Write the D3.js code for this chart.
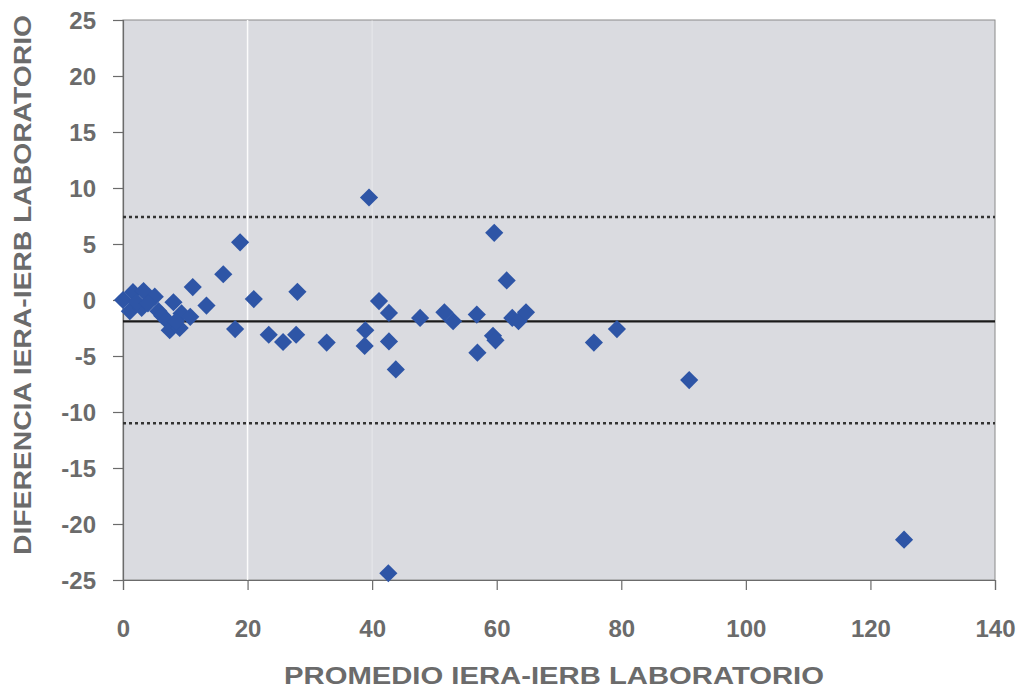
<!DOCTYPE html>
<html>
<head>
<meta charset="utf-8">
<script src="https://cdn.jsdelivr.net/npm/d3@7"></script>
<style>
  body { margin: 0; background: #ffffff; }
  text { font-family: "Liberation Sans", Arial, sans-serif; font-weight: bold; fill: #6b6b6b; }
</style>
</head>
<body>
<div id="chart"></div>
<script>
// Bland-Altman data
var promedio = [0, 1.6, 3.3, 5.1, 1.1, 3.0, 5.7, 2.2, 4.0, 6.3, 8.1, 7.0, 7.5, 9.1, 9.4, 8.5, 10.8, 11.2, 13.4, 16.1,
                18.0, 18.8, 21.0, 23.4, 25.7, 27.8, 28.0, 32.7, 38.8, 38.9, 39.5, 41.1, 42.7, 42.7, 42.6, 43.8,
                47.7, 51.6, 53.0, 56.8, 56.9, 59.4, 59.8, 59.6, 61.6, 62.5, 63.5, 64.7, 75.6, 79.3, 90.9, 125.4];
var diferencia = [0, 0.7, 0.8, 0.3, -1.0, -0.7, -1.0, -0.2, -0.3, -1.4, -0.2, -1.8, -2.7, -2.5, -1.2, -1.9, -1.5, 1.15, -0.5, 2.3,
                  -2.6, 5.15, 0.08, -3.1, -3.75, -3.1, 0.73, -3.8, -4.1, -2.7, 9.15, -0.1, -1.15, -3.7, -24.4, -6.2,
                  -1.6, -1.1, -1.9, -1.3, -4.7, -3.2, -3.6, 6.0, 1.75, -1.6, -1.9, -1.1, -3.8, -2.6, -7.15, -21.4];
var media = -1.9;
var limites = [7.4, -11.0];
var xTicks = [0, 20, 40, 60, 80, 100, 120, 140];
var yTicks = [25, 20, 15, 10, 5, 0, -5, -10, -15, -20, -25];

var margin = {top: 20, right: 30, bottom: 112, left: 123},
    width = 995 - margin.left,
    height = 580 - margin.top;

var svg = d3.select("#chart").append("svg")
    .attr("width", 1025).attr("height", 692)
  .append("g")
    .attr("transform", "translate(" + margin.left + "," + margin.top + ")");

var x = d3.scaleLinear().domain([0, 140]).range([0, width]);
var y = d3.scaleLinear().domain([-25, 25]).range([height, 0]);

// plot background
svg.append("rect")
    .attr("width", width).attr("height", height)
    .attr("fill", "#dadbe0")
    .attr("stroke", "#8a8a8a").attr("stroke-width", 1);

// faint white streaks seen in the scan
svg.selectAll(".streak").data([20, 40]).enter().append("line")
    .attr("x1", d => x(d)).attr("x2", d => x(d))
    .attr("y1", 0).attr("y2", height)
    .attr("stroke", "#ffffff")
    .attr("stroke-opacity", (d, i) => i == 0 ? 0.9 : 0.25)
    .attr("stroke-width", 1.5);

// axes (plain hyphen for negatives, as in the original)
var fmt = d => String(d);
var xAxis = svg.append("g").attr("transform", "translate(0," + height + ")")
    .call(d3.axisBottom(x).tickValues(xTicks).tickFormat(fmt).tickSize(10).tickPadding(30));
var yAxis = svg.append("g")
    .call(d3.axisLeft(y).tickValues(yTicks).tickFormat(fmt).tickSize(10).tickPadding(17));

[xAxis, yAxis].forEach(function(a) {
    a.selectAll("path, line").attr("stroke", "#6b6b6b").attr("stroke-width", 1.2);
    a.selectAll("text").attr("font-size", "24px").attr("fill", "#6b6b6b")
      .attr("font-family", "Liberation Sans, Arial, sans-serif").attr("font-weight", "bold");
});
yAxis.selectAll("text").attr("dy", "0.35em");

// mean and limits of agreement
svg.append("line")
    .attr("x1", 0).attr("x2", width)
    .attr("y1", y(media)).attr("y2", y(media))
    .attr("stroke", "#1a1a1a").attr("stroke-width", 2.2);

svg.selectAll(".limite").data(limites).enter().append("line")
    .attr("x1", 0).attr("x2", width)
    .attr("y1", d => y(d)).attr("y2", d => y(d))
    .attr("stroke", "#333333").attr("stroke-width", 2.5)
    .attr("stroke-dasharray", "3,3");

// points
var pts = promedio.map(function(p, i) { return {x: p, y: diferencia[i]}; });
svg.selectAll(".pt").data(pts).enter().append("path")
    .attr("d", d3.symbol().type(d3.symbolSquare).size(165))
    .attr("transform", d => "translate(" + x(d.x) + "," + y(d.y) + ") rotate(45)")
    .attr("fill", "#2e55a6");

// axis titles
svg.append("text")
    .attr("x", width / 2 - 5).attr("y", height + 104)
    .attr("text-anchor", "middle")
    .attr("font-size", "23px")
    .attr("textLength", 540).attr("lengthAdjust", "spacingAndGlyphs")
    .text("PROMEDIO IERA-IERB LABORATORIO");

svg.append("text")
    .attr("transform", "translate(-92," + (height / 2 - 15) + ") rotate(-90)")
    .attr("text-anchor", "middle")
    .attr("font-size", "23px")
    .attr("textLength", 540).attr("lengthAdjust", "spacingAndGlyphs")
    .text("DIFERENCIA IERA-IERB LABORATORIO");
</script>
</body>
</html>
